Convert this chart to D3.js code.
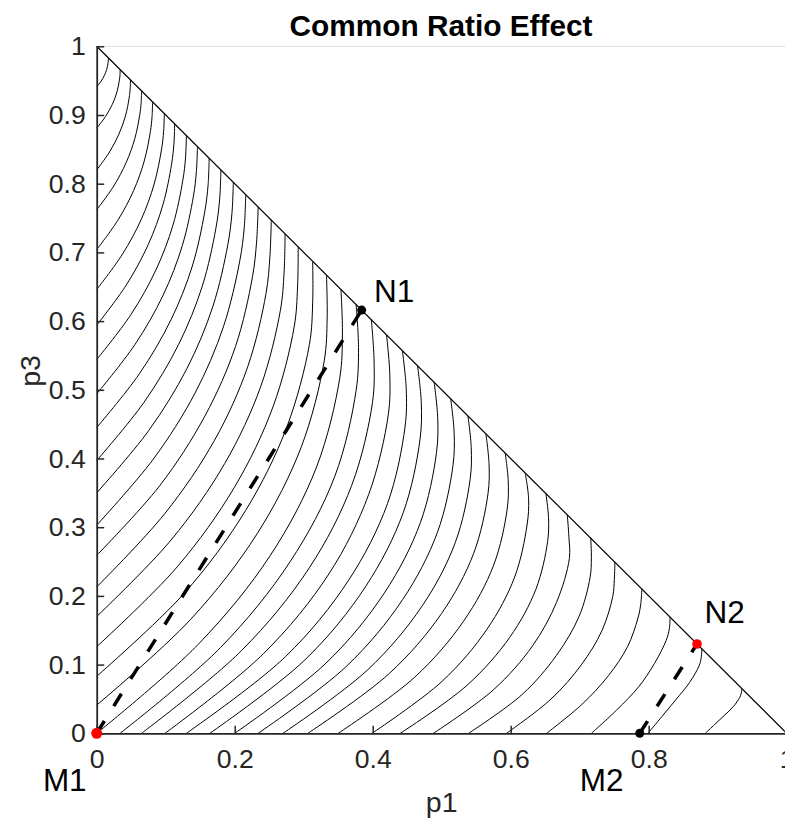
<!DOCTYPE html>
<html>
<head>
<meta charset="utf-8">
<script src="https://cdn.jsdelivr.net/npm/d3@7"></script>
<style>
  html,body{margin:0;padding:0;background:#fff;}
  svg{display:block;}
  text{font-family:"Liberation Sans",Arial,Helvetica,sans-serif;}
</style>
</head>
<body>
<svg id="chart" width="785" height="821"></svg>
<script>
// ---- data ----
const xTickValues = [0, 0.2, 0.4, 0.6, 0.8, 1];
const xTickLabels = ["0", "0.2", "0.4", "0.6", "0.8", "1"];
const yTickValues = [0, 0.1, 0.2, 0.3, 0.4, 0.5, 0.6, 0.7, 0.8, 0.9, 1];
const yTickLabels = ["0", "0.1", "0.2", "0.3", "0.4", "0.5", "0.6", "0.7", "0.8", "0.9", "1"];

// indifference curves, each a list of [p1, p3] points (start on an axis, end on the hypotenuse)
const indifferenceCurves = [
  [[0,.941],[.0065,.9494],[.0112,.9578],[.0145,.9662],[.0163,.9746],[.0168,.9788],[.017,.983]],
  [[0,.881],[.0129,.898],[.0224,.915],[.0289,.932],[.0326,.949],[.0337,.9575],[.034,.966]],
  [[0,.820],[.0186,.8462],[.0323,.8724],[.0417,.8986],[.0470,.9248],[.0485,.9379],[.049,.951]],
  [[0,.762],[.0247,.7966],[.0429,.8312],[.0553,.8658],[.0624,.9004],[.0644,.9177],[.065,.935]],
  [[0,.704],[.0308,.747],[.0535,.790],[.0689,.833],[.0778,.876],[.0802,.8975],[.081,.919]],
  [[0,.646],[.0372,.6972],[.0647,.7484],[.0833,.7996],[.0941,.8508],[.0970,.8764],[.098,.902]],
  [[0,.594],[.0429,.6526],[.0746,.7112],[.0961,.7698],[.1085,.8284],[.1119,.8577],[.113,.887]],
  [[0,.544],[.0494,.6092],[.0858,.6744],[.1105,.7396],[.1248,.8048],[.1287,.8374],[.130,.870]],
  [[0,.494],[.0555,.566],[.0964,.638],[.1241,.710],[.1402,.782],[.1445,.818],[.146,.854]],
  [[0,.445],[.0619,.5234],[.1076,.6018],[.1386,.6802],[.1565,.7586],[.1614,.7978],[.163,.837]],
  [[0,.397],[.0684,.4816],[.1188,.5662],[.1530,.6508],[.1728,.7354],[.1782,.7777],[.180,.820]],
  [[0,.350],[.0752,.4404],[.1307,.5308],[.1683,.6212],[.1901,.7116],[.1960,.7568],[.198,.802]],
  [[0,.303],[.0821,.3992],[.1426,.4954],[.1836,.5916],[.2074,.6878],[.2138,.7359],[.216,.784]],
  [[0,.259],[.0913,.3604],[.1568,.4618],[.2012,.5632],[.2258,.6646],[.2317,.7153],[.234,.766]],
  [[0,.213],[.0987,.3198],[.1708,.4266],[.2188,.5334],[.2454,.6402],[.2510,.6936],[.253,.747]],
  [[0,.170],[.1078,.2814],[.1856,.3928],[.2375,.5042],[.2662,.6156],[.2716,.6713],[.273,.727]],
  [[0,.126],[.1168,.2424],[.2000,.3588],[.2555,.4752],[.2862,.5916],[.2911,.6498],[.292,.708]],
  [[0,.083],[.1268,.2038],[.2160,.3246],[.2754,.4454],[.3083,.5662],[.3130,.6266],[.313,.687]],
  [[0,.041],[.1365,.1662],[.2331,.2914],[.2964,.4166],[.3297,.5418],[.3340,.6044],[.333,.667]],
  [[0,0],[.1469,.1292],[.2513,.2584],[.3186,.3876],[.3522,.5168],[.3561,.5814],[.354,.646]],
  [[.034,0],[.1794,.1248],[.2802,.2496],[.3452,.3744],[.3760,.4992],[.3794,.5616],[.376,.624]],
  [[.065,0],[.2099,.1204],[.3081,.2408],[.3697,.3612],[.3997,.4816],[.4020,.5418],[.398,.602]],
  [[.099,0],[.2418,.1160],[.3365,.2320],[.3943,.3480],[.4226,.4640],[.4248,.5220],[.420,.580]],
  [[.130,0],[.2734,.1114],[.3651,.2228],[.4214,.3342],[.4468,.4456],[.4486,.5013],[.443,.557]],
  [[.164,0],[.3019,.1070],[.3900,.2140],[.4442,.3210],[.4686,.4280],[.4704,.4815],[.465,.535]],
  [[.200,0],[.3324,.1022],[.4170,.2044],[.4691,.3066],[.4925,.4088],[.4942,.4599],[.489,.511]],
  [[.234,0],[.3618,.0974],[.4435,.1948],[.4937,.2922],[.5163,.3896],[.5180,.4383],[.513,.487]],
  [[.270,0],[.3927,.0924],[.4713,.1848],[.5195,.2772],[.5412,.3696],[.5428,.4158],[.538,.462]],
  [[.306,0],[.4242,.0872],[.4998,.1744],[.5462,.2616],[.5671,.3488],[.5686,.3924],[.564,.436]],
  [[.350,0],[.4608,.0816],[.5317,.1632],[.5753,.2448],[.5949,.3264],[.5964,.3672],[.592,.408]],
  [[.399,0],[.5007,.0758],[.5657,.1516],[.6057,.2274],[.6237,.3032],[.6260,.3411],[.621,.379]],
  [[.440,0],[.5366,.0698],[.5985,.1396],[.6364,.2094],[.6535,.2792],[.6548,.3141],[.651,.349]],
  [[.488,0],[.5753,.0636],[.6316,.1272],[.6665,.1908],[.6850,.2544],[.6843,.2862],[.682,.318]],
  [[.539,0],[.6169,.0568],[.6664,.1136],[.6992,.1704],[.7151,.2272],[.7169,.2556],[.716,.284]],
  [[.594,0],[.6584,.0498],[.7023,.0996],[.7322,.1494],[.7479,.1992],[.7502,.2241],[.751,.249]],
  [[.652,0],[.7031,.0420],[.7417,.0840],[.7693,.1260],[.7845,.1680],[.7886,.1890],[.790,.210]],
  [[.717,0],[.7535,.0338],[.7854,.0676],[.8082,.1014],[.8253,.1352],[.8299,.1521],[.831,.169]],
  [[.799,0],[.8193,.0246],[.8396,.0492],[.8591,.0738],[.8731,.0984],[.8762,.1107],[.877,.123]],
  [[.882,0],[.8958,.0130],[.9096,.0260],[.9228,.0390],[.9318,.0520],[.9342,.0585],[.935,.065]]
];

const hypotenuse = [[0, 1], [1, 0]];

// common-ratio lines (dashed)
const ratioLines = [
  [[0, 0], [0.384, 0.616]],
  [[0.787, 0], [0.870, 0.130]]
];

// lotteries
const lotteryNames  = ["M1", "N1", "M2", "N2"];
const lotteryP1     = [0, 0.384, 0.787, 0.870];
const lotteryP3     = [0, 0.616, 0, 0.130];
const lotteryColors = ["#ff0000", "#000000", "#000000", "#ff0000"];
const lotterySizes  = [5.5, 4.5, 4.5, 4.8];

// annotation text anchors (data coords)
const labelTexts = ["N1", "N2", "M1", "M2"];
const labelP1    = [0.402, 0.881, -0.078, 0.700];
const labelP3    = [0.645, 0.177, -0.068, -0.068];

// ---- drawing ----
const svg = d3.select("#chart");
const x = d3.scaleLinear().domain([0, 1]).range([96.7, 786.7]);
const y = d3.scaleLinear().domain([0, 1]).range([733.3, 46.3]);

const axisColor = "#262626";

// top box edge (light)
svg.append("line")
  .attr("x1", x(0)).attr("x2", x(1))
  .attr("y1", y(1)).attr("y2", y(1))
  .attr("stroke", "#dcdcdc").attr("stroke-width", 1);

const line = d3.line()
  .x(d => x(d[0])).y(d => y(d[1]))
  .curve(d3.curveCatmullRom.alpha(0.5));

svg.append("g").selectAll("path")
  .data(indifferenceCurves)
  .join("path")
  .attr("d", line)
  .attr("fill", "none")
  .attr("stroke", "#000")
  .attr("stroke-width", 1);

const straight = d3.line().x(d => x(d[0])).y(d => y(d[1]));

svg.append("path")
  .attr("d", straight(hypotenuse))
  .attr("fill", "none").attr("stroke", "#000").attr("stroke-width", 1.2);

// axes
const yAxis = d3.axisLeft(y)
  .tickValues(yTickValues)
  .tickFormat((d, i) => yTickLabels[i])
  .tickSize(-7.5).tickSizeOuter(0).tickPadding(11);
const xAxis = d3.axisBottom(x)
  .tickValues(xTickValues)
  .tickFormat((d, i) => xTickLabels[i])
  .tickSize(-7.5).tickSizeOuter(0).tickPadding(16);

const gy = svg.append("g").attr("transform", `translate(${x(0)},0)`).call(yAxis);
const gx = svg.append("g").attr("transform", `translate(0,${y(0)})`).call(xAxis);
[gx, gy].forEach(g => {
  g.select(".domain").attr("stroke", axisColor).attr("stroke-width", 1.8);
  g.selectAll(".tick line").attr("stroke", axisColor).attr("stroke-width", 1.5);
  g.selectAll(".tick text").attr("fill", axisColor)
    .style("font-size", "26.6px")
    .style("font-family", '"Liberation Sans",Arial,Helvetica,sans-serif');
});

// dashed common-ratio lines
svg.append("g").selectAll("path")
  .data(ratioLines)
  .join("path")
  .attr("d", straight)
  .attr("fill", "none")
  .attr("stroke", "#000")
  .attr("stroke-width", 3.5)
  .attr("stroke-dasharray", "14.5,17.6");

// lottery points
svg.append("g").selectAll("circle")
  .data(lotteryNames)
  .join("circle")
  .attr("cx", (d, i) => x(lotteryP1[i]))
  .attr("cy", (d, i) => y(lotteryP3[i]))
  .attr("r", (d, i) => lotterySizes[i])
  .attr("fill", (d, i) => lotteryColors[i]);

// annotations
svg.append("g").selectAll("text")
  .data(labelTexts)
  .join("text")
  .attr("x", (d, i) => x(labelP1[i]))
  .attr("y", (d, i) => y(labelP3[i]))
  .attr("dy", "0.36em")
  .attr("fill", "#000")
  .style("font-size", "31.5px")
  .text(d => d);

// axis labels
svg.append("text")
  .attr("x", (x(0) + x(1)) / 2)
  .attr("y", 812)
  .attr("text-anchor", "middle")
  .attr("fill", axisColor)
  .style("font-size", "28.5px")
  .text("p1");

svg.append("text")
  .attr("transform", `translate(40,371) rotate(-90)`)
  .attr("text-anchor", "middle")
  .attr("fill", axisColor)
  .style("font-size", "28.5px")
  .text("p3");

// title
svg.append("text")
  .attr("x", 441)
  .attr("y", 36)
  .attr("text-anchor", "middle")
  .attr("fill", "#000")
  .style("font-size", "29.8px")
  .style("font-weight", "bold")
  .text("Common Ratio Effect");
</script>
</body>
</html>
